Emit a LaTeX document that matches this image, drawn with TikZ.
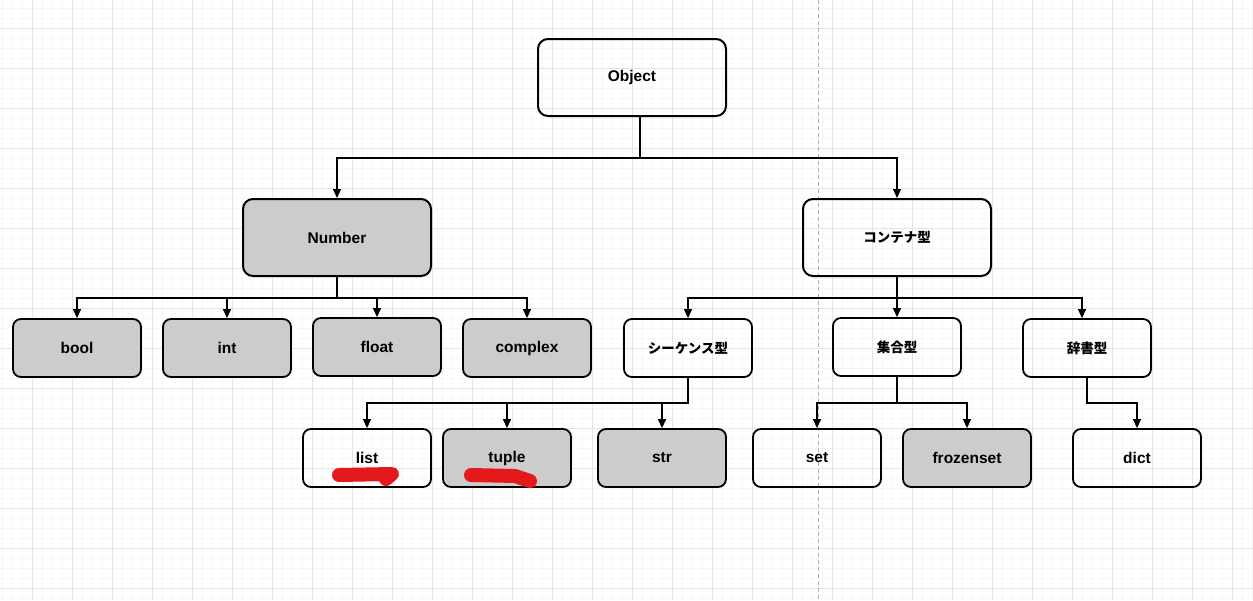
\documentclass[tikz,border=0pt]{standalone}
\usepackage{fontspec}
\usepackage{xcolor}
\usepackage{tikz}
\setmainfont{Liberation Sans}
\newfontfamily\jpfont{Noto Sans CJK JP}
\usetikzlibrary{arrows.meta}
\definecolor{boxgray}{HTML}{CCCCCC}
\definecolor{gridminor}{HTML}{F6F6F6}
\definecolor{gridmajor}{HTML}{E4E4E4}
\definecolor{marker}{HTML}{E3191C}

\begin{document}
\begin{tikzpicture}[x=1pt,y=-1pt,
    bigbox/.style={draw,line width=2pt,rounded corners=10pt,minimum width=188pt,minimum height=77pt},
    smallbox/.style={draw,line width=1.8pt,rounded corners=8pt,minimum width=128pt,minimum height=58pt},
    grey/.style={fill=boxgray},
    latin/.style={font=\bfseries\fontsize{15.5}{18}\selectfont},
    jp/.style={font=\jpfont\bfseries\fontsize{13.5}{16}\selectfont},
    conn/.style={draw=black,line width=1.2pt,-{Triangle[length=9pt,width=8pt]}},
    scribble/.style={draw=marker,line width=14pt,line cap=round,line join=round}]
        \useasboundingbox (0,0) rectangle (1253,600);
        \fill[white] (0,0) rectangle (1253,600);
        % background grid
        \foreach \gx in {2,12,...,1252} \draw[gridminor,line width=0.8pt] (\gx,0) -- (\gx,600);
        \foreach \gy in {8,18,...,598} \draw[gridminor,line width=0.8pt] (0,\gy) -- (1253,\gy);
        \foreach \gx in {32,72,...,1252} \draw[gridmajor,line width=0.9pt] (\gx,0) -- (\gx,600);
        \foreach \gy in {28,68,...,598} \draw[gridmajor,line width=0.9pt] (0,\gy) -- (1253,\gy);
        \draw[gray!60,line width=0.9pt,dash pattern=on 4pt off 3pt] (818,0) -- (818,600);

        \begin{scope}[latin]
          \node[bigbox] (obj) at (632,77.5) {Object};
          \node[bigbox,grey] (num) at (337,237.5) {Number};
          \node[bigbox,jp] (cont) at (897,237.5) {コンテナ型};
          \node[smallbox,grey] (bool) at (77,348) {bool};
          \node[smallbox,grey] (int) at (227,348) {int};
          \node[smallbox,grey] (float) at (377,347) {float};
          \node[smallbox,grey] (cplx) at (527,348) {complex};
          \node[smallbox,jp] (seq) at (688,348) {シーケンス型};
          \node[smallbox,jp] (setty) at (897,347) {集合型};
          \node[smallbox,jp] (dictty) at (1087,348) {辞書型};
          \node[smallbox] (list) at (367,458) {list};
          \node[smallbox,grey] (tuple) at (507,458) {tuple};
          \node[smallbox,grey] (str) at (662,458) {str};
          \node[smallbox] (set) at (817,458) {set};
          \node[smallbox,grey] (fset) at (967,458) {frozenset};
          \node[smallbox] (dict) at (1137,458) {dict};
        \end{scope}

        % elbow points of the connectors
        \coordinate (objstem) at (640,158);
        \coordinate (numstem) at (337,298);
        \coordinate (contstem) at (897,298);
        \coordinate (seqstem) at (688,403);
        \coordinate (setstem) at (897,403);
        \coordinate (dictstem) at (1087,403);

        \draw[conn] (objstem |- obj.south) -- (objstem) -| (num);
        \draw[conn] (objstem) -| (cont);
        \foreach \kid in {bool,int,float,cplx}
          \draw[conn] (num) -- (numstem) -| (\kid);
        \draw[conn] (cont) -- (contstem) -| (seq);
        \draw[conn] (contstem) -| (setty);
        \draw[conn] (contstem) -| ([xshift=-5pt]dictty.north);
        \foreach \kid in {list,tuple,str}
          \draw[conn] (seq) -- (seqstem) -| (\kid);
        \foreach \kid in {set,fset}
          \draw[conn] (setty) -- (setstem) -| (\kid);
        \draw[conn] (dictty) -- (dictstem) -| (dict);

        % red marker strokes
        \draw[scribble] (339,475) -- (392,474) -- (386,479);
        \draw[scribble] (471,475) -- (515,476) -- (530,481);
      \end{tikzpicture}
\end{document}
